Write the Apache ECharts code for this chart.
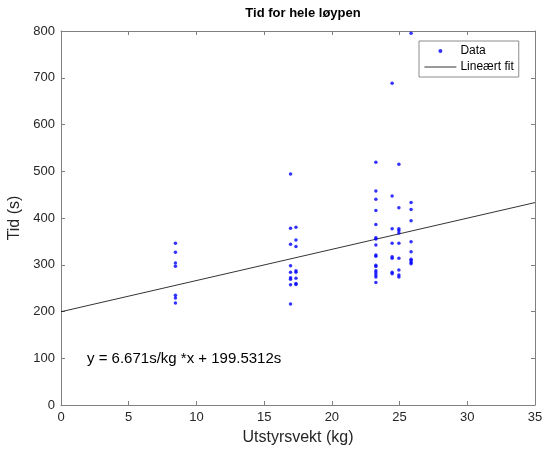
<!DOCTYPE html>
<html>
<head>
<meta charset="utf-8">
<script src="https://cdn.jsdelivr.net/npm/echarts@6/dist/echarts.min.js"></script>
<style>html,body{margin:0;padding:0;background:#fff;}#c{width:545px;height:450px;}</style>
</head>
<body>
<div id="c"></div>
<script>
// Data
var weightGroups = [8.45, 16.95, 17.35, 23.25, 24.45, 24.95, 25.85];
var timeGroups = [
  [346, 327, 304, 297, 235, 229, 218],
  [494, 378, 344, 298, 284, 272, 269, 257, 216],
  [380, 353, 339, 287, 284, 271, 260, 258],
  [519, 458, 440, 416, 386, 358, 355, 342, 321, 318, 299, 296, 287, 283, 278, 274, 262],
  [688, 447, 377, 346, 317, 314, 284, 281],
  [515, 422, 377, 373, 368, 346, 314, 289, 278, 274],
  [795, 433, 418, 394, 349, 328, 312, 309, 305, 302]
];
var slope = 6.671;
var intercept = 199.5312;
var fitX = [0, 35];
var xTicks = [0, 5, 10, 15, 20, 25, 30, 35];
var yTicks = [0, 100, 200, 300, 400, 500, 600, 700, 800];

var points = [];
weightGroups.forEach(function (w, i) {
  timeGroups[i].forEach(function (t) { points.push([w, t]); });
});
var fitLine = fitX.map(function (x) { return [x, slope * x + intercept]; });

var font = 'Liberation Sans, Arial, sans-serif';
var axisCol = '#808080';
var labCol = '#262626';

function xAx(pos, show) {
  return {
    type: 'value', position: pos, min: xTicks[0], max: xTicks[xTicks.length - 1], interval: 5,
    axisLine: { show: true, onZero: false, lineStyle: { color: axisCol, width: 1 } },
    axisTick: { show: true, inside: true, length: 4, lineStyle: { color: axisCol } },
    axisLabel: { show: show, color: labCol, fontSize: 13, fontFamily: font, margin: 6 },
    splitLine: { show: false },
    name: show ? 'Utstyrsvekt (kg)' : '', nameLocation: 'middle', nameGap: 25,
    nameTextStyle: { color: labCol, fontSize: 16, fontFamily: font }
  };
}
function yAx(pos, show) {
  return {
    type: 'value', position: pos, min: yTicks[0], max: yTicks[yTicks.length - 1], interval: 100,
    axisLine: { show: true, onZero: false, lineStyle: { color: axisCol, width: 1 } },
    axisTick: { show: true, inside: true, length: 4, lineStyle: { color: axisCol } },
    axisLabel: { show: show, color: labCol, fontSize: 13, fontFamily: font, margin: 6 },
    splitLine: { show: false },
    name: show ? 'Tid (s)' : '', nameLocation: 'middle', nameGap: 32,
    nameTextStyle: { color: labCol, fontSize: 16, fontFamily: font }
  };
}

var chart = echarts.init(document.getElementById('c'), null, { renderer: 'canvas' });
chart.setOption({
  backgroundColor: '#ffffff',
  animation: false,
  title: {
    text: 'Tid for hele løypen', left: 298, top: 2, textAlign: 'center',
    textStyle: { fontSize: 13, fontWeight: 'bold', color: '#000', fontFamily: font }
  },
  grid: { left: 61, right: 10, top: 31, bottom: 45, containLabel: false, outerBoundsMode: 'none' },
  xAxis: [xAx('bottom', true), xAx('top', false)],
  yAxis: [yAx('left', true), yAx('right', false)],
  legend: {
    left: 419, top: 41, orient: 'vertical',
    backgroundColor: '#fff', borderColor: '#8c8c8c', borderWidth: 1, borderRadius: 0,
    padding: [4, 5, 4, 5], itemGap: 4, itemWidth: 32, itemHeight: 4,
    textStyle: { fontSize: 12, fontFamily: font, color: '#000', padding: [0, 0, 0, -1] },
    data: [
      { name: 'Data', icon: 'circle' },
      { name: 'Lineært fit', itemStyle: { opacity: 0 }, lineStyle: { color: '#000', width: 0.8 } }
    ]
  },
  graphic: [{
    type: 'text', left: 87, top: 351,
    style: { text: 'y = 6.671s/kg *x + 199.5312s', fontSize: 15, fontFamily: font, fill: '#000' }
  }],
  series: [
    {
      name: 'Data', type: 'scatter', data: points, symbol: 'circle', symbolSize: 3.5,
      itemStyle: { color: '#0000ff' }, z: 3
    },
    {
      name: 'Lineært fit', type: 'line', data: fitLine, showSymbol: false, symbol: 'none',
      lineStyle: { color: '#000', width: 0.8 }, itemStyle: { color: '#000' }, z: 2
    }
  ]
});
</script>
</body>
</html>
